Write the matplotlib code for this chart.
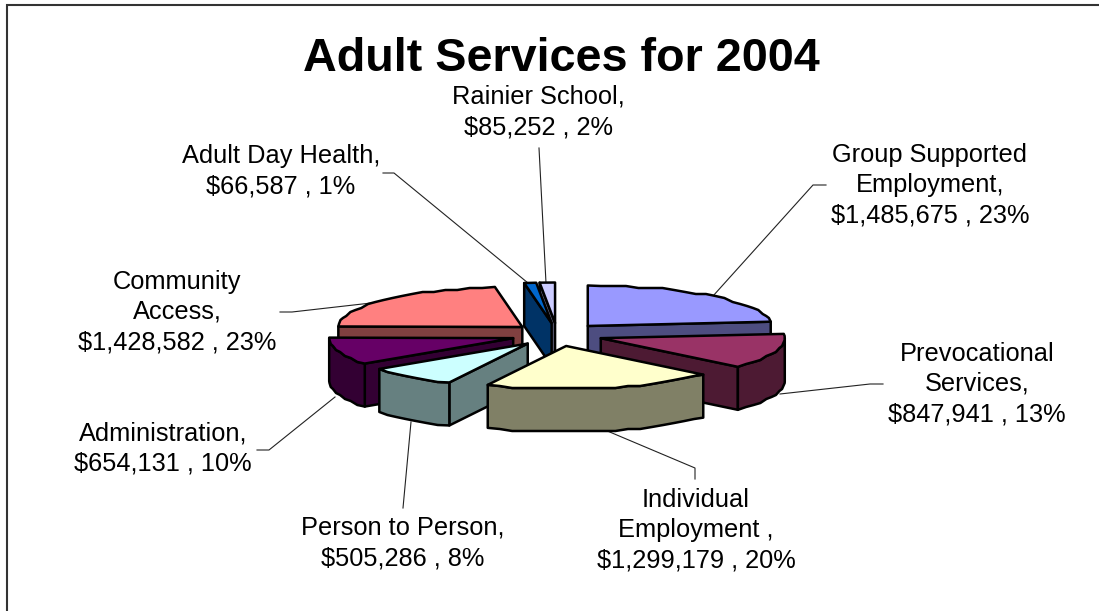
import numpy as np
import matplotlib
matplotlib.use("Agg")
import matplotlib.pyplot as plt
from matplotlib.patches import Polygon

plt.rcParams['font.family'] = ['Liberation Sans', 'DejaVu Sans']

# --- data ---
categories = ["Group Supported\nEmployment", "Prevocational\nServices", "Individual\nEmployment ",
              "Person to Person", "Administration", "Community\nAccess",
              "Adult Day Health", "Rainier School"]
values = [1485675, 847941, 1299179, 505286, 654131, 1428582, 66587, 85252]
percents = [23, 13, 20, 8, 10, 23, 1, 2]
title = "Adult Services for 2004"

# --- styling ---
top_colors = ["#9999FF", "#993366", "#FFFFCC", "#CCFFFF", "#660066", "#FF8080", "#0066CC", "#CCCCFF"]
side_colors = ["#4D4D80", "#4D1A33", "#808066", "#668080", "#330033", "#804040", "#003366", "#666680"]

# --- layout (pixels) ---
CX, CY = 557.0, 334.6
A, B_BACK, B_FRONT = 184.0, 40.5, 43.0
DEPTH = 43.0
EXPLODE_X, EXPLODE_Y = 46.0, 11.6
LW = 1.8
ARC_STEP = 4.0      # the reference outlines are coarse facets, not smooth curves
Y_SNAP = 2.0
draw_order = [7, 6, 0, 5, 1, 4, 3, 2]
label_pos = [(930, 185), (977, 384), (696, 530.5), (403, 543),
             (163, 448.5), (177, 312), (281, 171.5), (538.5, 112)]
leaders = [[(826, 185), (813, 185), (713, 296)],
           [(883, 384), (870, 384), (780, 394)],
           [(695, 479), (695, 468), (605, 430)],
           [(403, 508), (411, 422)],
           [(257, 450), (269, 450), (335, 397)],
           [(280, 312), (292, 312), (380, 302)],
           [(383, 173), (394, 173), (528, 283)],
           [(539, 148), (546, 283)]]

fig = plt.figure(figsize=(10.99, 6.11), dpi=100)
ax = fig.add_axes([0, 0, 1, 1])
ax.set_xlim(0, 1099)
ax.set_ylim(611, 0)
ax.axis("off")

# chart frame: only the left and top edges fall inside the picture
ax.plot([7, 7, 1099], [611, 5, 5], color="#333333", lw=1.5, solid_joinstyle="miter", zorder=1)

# leader lines lie under the pie
for pts in leaders:
    xs, ys = zip(*pts)
    ax.plot(xs, ys, color="#222222", lw=0.8, zorder=2)

vals = np.array(values, dtype=float)
edges = np.concatenate([[0], np.cumsum(vals) / vals.sum() * 360.0])


def project(theta, apex):
    t = np.radians(theta)
    c = np.cos(t)
    b = np.where(c > 0, B_BACK, B_FRONT)
    return np.column_stack([apex[0] + A * np.sin(t), apex[1] - b * c])


def arc_points(lo, hi, apex):
    n = max(int(round((hi - lo) / ARC_STEP)) + 1, 2)
    pts = project(np.linspace(lo, hi, n), apex)
    inner = pts[1:-1]
    inner[:, 1] = np.round(inner[:, 1] / Y_SNAP) * Y_SNAP
    return pts


z = 3
for i in draw_order:
    t0, t1 = edges[i], edges[i + 1]
    mid = np.radians((t0 + t1) / 2)
    apex = np.array([CX + EXPLODE_X * np.sin(mid), CY - EXPLODE_Y * np.cos(mid)])
    arc = arc_points(t0, t1, apex)
    down = np.array([0, DEPTH])

    def face(poly, color):
        global z
        ax.add_patch(Polygon(poly, closed=True, facecolor=color, edgecolor="black",
                             lw=LW, joinstyle="round", zorder=z))
        z += 1

    # radial cut faces that turn towards the viewer
    if np.cos(np.radians(t0 - 90)) < 0:
        face([apex, arc[0], arc[0] + down, apex + down], side_colors[i])
    if np.cos(np.radians(t1 + 90)) < 0:
        face([apex, arc[-1], arc[-1] + down, apex + down], side_colors[i])
    # outer wall on the front half of the ellipse
    lo, hi = max(t0, 90), min(t1, 270)
    if hi > lo:
        th = np.linspace(t0, t1, len(arc))
        wall = arc[(th >= lo) & (th <= hi)]
        if lo > t0:
            wall = np.vstack([project(np.array([lo]), apex), wall])
        if hi < t1:
            wall = np.vstack([wall, project(np.array([hi]), apex)])
        face(np.vstack([wall, (wall + down)[::-1]]), side_colors[i])
    # top face
    face(np.vstack([apex, arc]), top_colors[i])

ax.text(561, 54, title, ha="center", va="center_baseline", fontsize=33.7, fontweight="bold", color="black", zorder=50)

for name, v, p, (x, y) in zip(categories, values, percents, label_pos):
    ax.text(x, y, f"{name},\n${v:,} , {p}%", ha="center", va="center", fontsize=18.3,
            linespacing=1.34, color="black", zorder=50)

fig.savefig("out.png", dpi=100, facecolor="white")
